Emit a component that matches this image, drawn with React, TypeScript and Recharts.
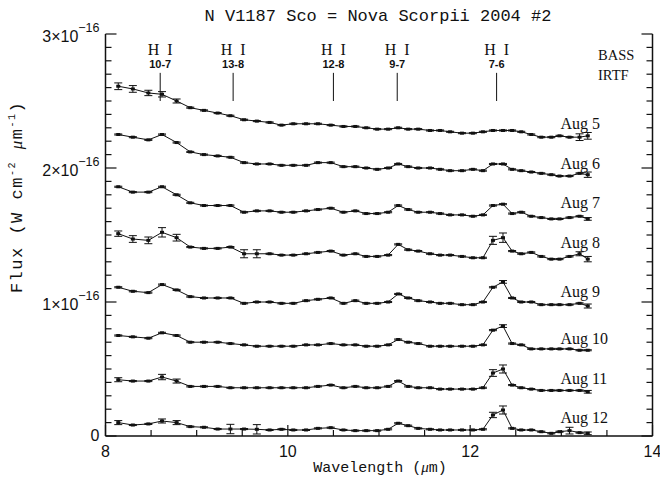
import React from 'react'
import {
  LineChart, Line, XAxis, YAxis, ErrorBar, ReferenceLine, ReferenceDot,
} from 'recharts'

// ---------------------------------------------------------------------------
// Data (flux in units of 1e-16 W cm^-2 um^-1)
// ---------------------------------------------------------------------------

const WAVELENGTH = [
  8.14, 8.30, 8.47, 8.62, 8.78, 8.93, 9.08, 9.23, 9.37, 9.52,
  9.66, 9.80, 9.93, 10.06, 10.20, 10.33, 10.47, 10.61, 10.74, 10.86,
  10.98, 11.10, 11.21, 11.32, 11.43, 11.56, 11.67, 11.78, 11.91, 12.03,
  12.14, 12.25, 12.36, 12.46, 12.56, 12.67, 12.78, 12.89, 12.98, 13.09,
  13.20, 13.29,
]

const AUG5 = [
  2.61, 2.59, 2.56, 2.55, 2.50, 2.45, 2.43, 2.41, 2.39, 2.36,
  2.35, 2.34, 2.32, 2.33, 2.33, 2.33, 2.32, 2.31, 2.31, 2.30,
  2.29, 2.29, 2.30, 2.29, 2.29, 2.28, 2.28, 2.27, 2.26, 2.26,
  2.27, 2.28, 2.28, 2.28, 2.27, 2.25, 2.23, 2.23, 2.24, 2.23,
  2.23, 2.24,
]
const AUG6 = [
  2.25, 2.23, 2.21, 2.25, 2.19, 2.12, 2.10, 2.09, 2.08, 2.04,
  2.03, 2.03, 2.02, 2.02, 2.02, 2.04, 2.04, 2.01, 2.01, 2.00,
  1.99, 2.00, 2.03, 2.01, 2.00, 2.00, 1.99, 1.98, 1.98, 1.99,
  1.98, 2.03, 2.03, 1.99, 1.98, 1.97, 1.96, 1.95, 1.94, 1.94,
  1.96, 1.95,
]
const AUG7 = [
  1.86, 1.82, 1.82, 1.86, 1.80, 1.74, 1.72, 1.72, 1.72, 1.67,
  1.68, 1.68, 1.67, 1.67, 1.68, 1.69, 1.70, 1.67, 1.68, 1.66,
  1.66, 1.67, 1.72, 1.69, 1.67, 1.67, 1.66, 1.65, 1.65, 1.64,
  1.65, 1.72, 1.73, 1.66, 1.67, 1.64, 1.63, 1.62, 1.62, 1.63,
  1.64, 1.62,
]
const AUG8 = [
  1.51, 1.47, 1.46, 1.52, 1.48, 1.41, 1.40, 1.40, 1.41, 1.36,
  1.36, 1.36, 1.35, 1.35, 1.36, 1.37, 1.38, 1.35, 1.36, 1.34,
  1.34, 1.35, 1.43, 1.39, 1.38, 1.36, 1.35, 1.35, 1.34, 1.33,
  1.33, 1.46, 1.48, 1.38, 1.36, 1.37, 1.34, 1.32, 1.32, 1.34,
  1.36, 1.32,
]
const AUG9 = [
  1.11, 1.08, 1.07, 1.13, 1.09, 1.04, 1.03, 1.03, 1.03, 0.99,
  1.00, 1.00, 0.99, 0.99, 1.01, 1.02, 1.03, 0.99, 1.01, 0.99,
  0.99, 1.00, 1.06, 1.03, 1.01, 1.00, 0.99, 0.99, 0.98, 0.98,
  1.00, 1.11, 1.15, 1.03, 1.00, 1.00, 0.98, 0.98, 0.98, 0.98,
  0.99, 0.97,
]
const AUG10 = [
  0.75, 0.74, 0.73, 0.77, 0.75, 0.70, 0.70, 0.70, 0.69, 0.68,
  0.67, 0.67, 0.67, 0.67, 0.68, 0.68, 0.69, 0.68, 0.68, 0.67,
  0.67, 0.68, 0.72, 0.70, 0.69, 0.67, 0.67, 0.67, 0.67, 0.67,
  0.68, 0.79, 0.82, 0.69, 0.68, 0.65, 0.65, 0.65, 0.65, 0.65,
  0.64, 0.64,
]
const AUG11 = [
  0.42, 0.41, 0.41, 0.44, 0.41, 0.37, 0.37, 0.37, 0.36, 0.36,
  0.36, 0.36, 0.36, 0.36, 0.36, 0.37, 0.38, 0.36, 0.37, 0.36,
  0.36, 0.37, 0.41, 0.37, 0.36, 0.36, 0.35, 0.35, 0.35, 0.35,
  0.36, 0.47, 0.50, 0.38, 0.36, 0.35, 0.34, 0.34, 0.34, 0.34,
  0.34, 0.33,
]
const AUG12 = [
  0.100, 0.082, 0.090, 0.112, 0.100, 0.070, 0.065, 0.052, 0.052, 0.052,
  0.050, 0.045, 0.050, 0.045, 0.045, 0.057, 0.062, 0.045, 0.040, 0.040,
  0.040, 0.050, 0.095, 0.077, 0.057, 0.050, 0.045, 0.045, 0.045, 0.045,
  0.050, 0.157, 0.194, 0.057, 0.045, 0.045, 0.032, 0.020, 0.032, 0.040,
  0.025, 0.020,
]

// visible error bars as [point index, half-length]; all others get the default
const DEFAULT_ERR = 0.004
const ERR_AUG5 = [[0, 0.025], [1, 0.025], [2, 0.02], [3, 0.02], [4, 0.015], [40, 0.025], [41, 0.025]]
const ERR_AUG6 = [[41, 0.02]]
const ERR_AUG7 = [[41, 0.01]]
const ERR_AUG8 = [[0, 0.02], [1, 0.025], [2, 0.025], [3, 0.035], [4, 0.025], [9, 0.03], [10, 0.03], [31, 0.03], [32, 0.035], [40, 0.015], [41, 0.02]]
const ERR_AUG9 = [[32, 0.01], [41, 0.015]]
const ERR_AUG10 = [[32, 0.01]]
const ERR_AUG11 = [[0, 0.015], [3, 0.02], [4, 0.015], [31, 0.025], [32, 0.03], [41, 0.01]]
const ERR_AUG12 = [[0, 0.015], [3, 0.015], [4, 0.015], [8, 0.035], [10, 0.035], [31, 0.02], [32, 0.03], [39, 0.025], [41, 0.01]]

const DATES = ['Aug 5', 'Aug 6', 'Aug 7', 'Aug 8', 'Aug 9', 'Aug 10', 'Aug 11', 'Aug 12']
const FLUXES = [AUG5, AUG6, AUG7, AUG8, AUG9, AUG10, AUG11, AUG12]
const ERRORS = [ERR_AUG5, ERR_AUG6, ERR_AUG7, ERR_AUG8, ERR_AUG9, ERR_AUG10, ERR_AUG11, ERR_AUG12]

// date label anchors (left edge wavelength, baseline flux)
const DATE_LABEL_X = 12.99
const DATE_LABEL_Y = [2.29, 1.99, 1.70, 1.40, 1.04, 0.69, 0.39, 0.10]

// H I line identifications
const HI_WAVE = [8.6, 9.4, 10.5, 11.2, 12.29]
const HI_TRANS = ['10-7', '13-8', '12-8', '9-7', '7-6']

const X_LABELS = [8, 10, 12, 14]
const Y_LABELS = [0, 1, 2, 3]

// ---------------------------------------------------------------------------
// Layout
// ---------------------------------------------------------------------------

const W = 660
const H = 478
const INK = '#111'
const MONO = '"Liberation Mono", monospace'
const SERIF = '"Liberation Serif", serif'
const SANS = '"Liberation Sans", Arial, sans-serif'

const X_TICKS = Array.from({ length: 13 }, (_, i) => 8 + i * 0.5)
const Y_TICKS = Array.from({ length: 31 }, (_, i) => i / 10)

function rows(flux: number[], errs: number[][]) {
  const errMap = new Map(errs.map(([i, e]) => [i, e]))
  return WAVELENGTH.map((w, i) => ({ w, f: flux[i], e: errMap.get(i) ?? DEFAULT_ERR }))
}

// ---------------------------------------------------------------------------
// Ticks (drawn inward on all four sides)
// ---------------------------------------------------------------------------

function BottomTick({ x, y, payload }: any) {
  const major = X_LABELS.includes(payload.value)
  return (
    <g>
      <line x1={x} x2={x} y1={y} y2={y - (major ? 11 : 6)} stroke={INK} strokeWidth={1.2} />
      {major && (
        <text x={x} y={y + 21} textAnchor="middle" fontFamily={SANS} fontSize={16} fill={INK}>
          {payload.value}
        </text>
      )}
    </g>
  )
}

function TopTick({ x, y, payload }: any) {
  const major = X_LABELS.includes(payload.value)
  return <line x1={x} x2={x} y1={y} y2={y + (major ? 11 : 6)} stroke={INK} strokeWidth={1.2} />
}

function LeftTick({ x, y, payload }: any) {
  const v = payload.value
  const major = Number.isInteger(v)
  return (
    <g>
      <line x1={x} x2={x + (major ? 11 : 6)} y1={y} y2={y} stroke={INK} strokeWidth={1.2} />
      {major && Y_LABELS.includes(v) && (
        v === 0 ? (
          <text x={x - 6} y={y + 5} textAnchor="end" fontFamily={SANS} fontSize={16} fill={INK}>0</text>
        ) : (
          <text x={x - 6} y={y + 8} textAnchor="end" fontFamily={SANS} fontSize={16} fill={INK}>
            <tspan>{v}×10</tspan>
            <tspan dy={-10} fontSize={12.5}>−16</tspan>
          </text>
        )
      )}
    </g>
  )
}

function RightTick({ x, y, payload }: any) {
  const major = Number.isInteger(payload.value)
  return <line x1={x} x2={x - (major ? 11 : 6)} y1={y} y2={y} stroke={INK} strokeWidth={1.2} />
}

function PointMark({ cx, cy, index }: any) {
  if (cx == null || cy == null) return <g key={`p-${index}`} />
  return <rect key={`p-${index}`} x={cx - 2} y={cy - 1.5} width={4} height={3} fill={INK} />
}

// ---------------------------------------------------------------------------
// Component
// ---------------------------------------------------------------------------

export default function App() {
  return (
    <div style={{ position: 'absolute', left: 0, top: 0, width: W, height: H, background: '#fff' }}>
      <LineChart width={W} height={H} margin={{ top: 34, right: 0, bottom: 0, left: 0 }}>
        <XAxis
          dataKey="w" type="number" domain={[8, 14]} ticks={X_TICKS} interval={0}
          height={42} tickSize={0} tickMargin={0} tickLine={false} tick={BottomTick}
          axisLine={{ stroke: INK, strokeWidth: 1.5 }} allowDataOverflow
        />
        <XAxis
          xAxisId="top" orientation="top" dataKey="w" type="number" domain={[8, 14]}
          ticks={X_TICKS} interval={0} height={0} tickSize={0} tickMargin={0} tickLine={false}
          tick={TopTick} axisLine={{ stroke: INK, strokeWidth: 1.5 }} allowDataOverflow
        />
        <YAxis
          type="number" domain={[0, 3]} ticks={Y_TICKS} interval={0} width={105.5}
          tickSize={0} tickMargin={0} tickLine={false} tick={LeftTick}
          axisLine={{ stroke: INK, strokeWidth: 1.5 }} allowDataOverflow
        />
        <YAxis
          yAxisId="right" orientation="right" type="number" domain={[0, 3]} ticks={Y_TICKS}
          interval={0} width={7.5} tickSize={0} tickMargin={0} tickLine={false} tick={RightTick}
          axisLine={{ stroke: INK, strokeWidth: 1.5 }} allowDataOverflow
        />

        {FLUXES.map((flux, s) => (
          <Line
            key={DATES[s]}
            data={rows(flux, ERRORS[s])}
            dataKey="f"
            type="linear"
            stroke={INK}
            strokeWidth={1}
            dot={PointMark}
            activeDot={false}
            isAnimationActive={false}
          >
            <ErrorBar dataKey="e" direction="y" width={4} stroke={INK} strokeWidth={1} isAnimationActive={false} />
          </Line>
        ))}

        {HI_WAVE.map((w, i) => (
          <ReferenceLine
            key={`hi-${HI_TRANS[i]}`}
            segment={[{ x: w, y: 2.50 }, { x: w, y: 2.71 }]}
            stroke={INK}
            strokeWidth={1}
          />
        ))}
        {HI_WAVE.map((w, i) => (
          <ReferenceDot
            key={`hil-${HI_TRANS[i]}`}
            x={w} y={2.71} r={0} fill="none" stroke="none"
            label={(p: any) => (
              <g>
                <text x={p.viewBox.x} y={p.viewBox.y - 18} textAnchor="middle" fontFamily={SERIF} fontSize={16} fill={INK}>
                  H&#160;&#160;I
                </text>
                <text x={p.viewBox.x} y={p.viewBox.y - 5} textAnchor="middle" fontFamily={SANS} fontSize={11} fontWeight="bold" fill={INK}>
                  {HI_TRANS[i]}
                </text>
              </g>
            )}
          />
        ))}

        {DATES.map((d, i) => (
          <ReferenceDot
            key={`lab-${d}`}
            x={DATE_LABEL_X} y={DATE_LABEL_Y[i]} r={0} fill="none" stroke="none"
            label={(p: any) => (
              <text x={p.viewBox.x} y={p.viewBox.y} fontFamily={SERIF} fontSize={16} fill={INK}>
                {d.replace(' ', '\u00a0')}
              </text>
            )}
          />
        ))}
      </LineChart>

      <svg width={W} height={H} style={{ position: 'absolute', left: 0, top: 0, pointerEvents: 'none' }}>
        <text x={378} y={21} textAnchor="middle" fontFamily={MONO} fontSize={17} fill={INK}>
          N V1187 Sco = Nova Scorpii 2004 #2
        </text>
        <text x={598} y={60} fontFamily={SERIF} fontSize={14.5} fill={INK}>BASS</text>
        <text x={598} y={80} fontFamily={SERIF} fontSize={14.5} fill={INK}>IRTF</text>
        <text x={380} y={472} textAnchor="middle" fontFamily={MONO} fontSize={15} fill={INK}>
          Wavelength (<tspan fontFamily={SERIF} fontStyle="italic">μ</tspan>m)
        </text>
        <text
          x={22} y={197} textAnchor="middle" fontFamily={MONO} fontSize={17} letterSpacing={1.5} fill={INK}
          transform="rotate(-90 22 197)"
        >
          <tspan>Flux (W cm</tspan>
          <tspan dy={-7} fontSize={10}>-2</tspan>
          <tspan dy={7}> </tspan>
          <tspan fontFamily={SERIF} fontStyle="italic">μ</tspan>
          <tspan>m</tspan>
          <tspan dy={-7} fontSize={10}>-1</tspan>
          <tspan dy={7}>)</tspan>
        </text>
      </svg>
    </div>
  )
}
